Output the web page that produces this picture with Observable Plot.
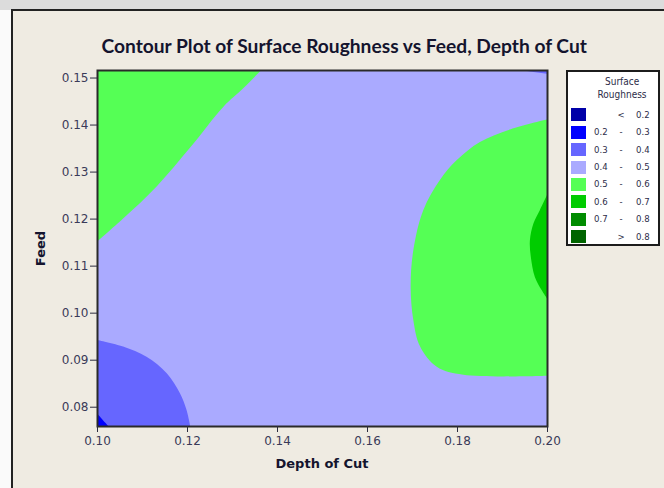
<!DOCTYPE html>
<html><head><meta charset="utf-8">
<script src="https://cdn.jsdelivr.net/npm/d3@7"></script>
<script src="https://cdn.jsdelivr.net/npm/@observablehq/plot@0.6"></script>
<style>
html,body{margin:0;padding:0;background:#fff;}
#wrap{position:relative;width:664px;height:488px;overflow:hidden;background:#fafafa;}
#topband{position:absolute;left:0;top:0;width:664px;height:10px;background:#dcdcdc;}
#panel{position:absolute;left:11px;top:9px;width:700px;height:520px;background:#efebe2;border-left:2px solid #222;border-top:2px solid #222;}
#chart{position:absolute;left:0;top:0;}
.lbl{position:absolute;white-space:nowrap;font-weight:bold;color:#14142e;}
#legend{position:absolute;left:566px;top:70px;width:90px;height:172px;border:2px solid #1c1c1c;background:#fff;font-family:"DejaVu Sans Condensed","DejaVu Sans";font-size:9.5px;color:#2c2c48;}
#legend div{position:absolute;white-space:nowrap;line-height:1;}
</style></head>
<body>
<div id="wrap">
  <div id="topband"></div>
  <div id="panel"></div>
  <div id="chart"></div>
  <div id="title" class="lbl" style="font-family:'Lato','Liberation Sans';font-size:16px;">Contour Plot of Surface Roughness vs Feed, Depth of Cut</div>
  <div id="xlabel" class="lbl" style="font-family:'DejaVu Sans';font-size:13px;">Depth of Cut</div>
  <div id="ylabel" class="lbl" style="font-family:'DejaVu Sans';font-size:13px;">Feed</div>
  <div id="legend"></div>
</div>
<script>
// ---- axis settings ----
const depthDomain = [0.10, 0.20];
const feedDomain = [0.0759, 0.1516];
const depthTicks = [0.10, 0.12, 0.14, 0.16, 0.18, 0.20];
const feedTicks = [0.08, 0.09, 0.10, 0.11, 0.12, 0.13, 0.14, 0.15];

// ---- legend bands ----
const bandLow  = ["",    "0.2", "0.3", "0.4", "0.5", "0.6", "0.7", "0.8"];
const bandHigh = ["0.2", "0.3", "0.4", "0.5", "0.6", "0.7", "0.8", ""];
const bandColors = ["#0000a8", "#0000ff", "#6666ff", "#aaaaff", "#55ff55", "#00cc00", "#008c00", "#006400"];

// ---- contour region boundaries (Depth of Cut, Feed) ----
// 0.5 - 0.6 region in the upper left (boundary below it, top edge above)
const upperLeftGreen = [
  {depth: 0.1000, feed: 0.1151},
  {depth: 0.1058, feed: 0.1200},
  {depth: 0.1133, feed: 0.1269},
  {depth: 0.1207, feed: 0.1351},
  {depth: 0.1281, feed: 0.1438},
  {depth: 0.1325, feed: 0.1477},
  {depth: 0.1366, feed: 0.1517}
];
// 0.5 - 0.6 region on the right (left boundary, right edge)
const rightGreen = [
  {feed: 0.0866, depth: 0.2000},
  {feed: 0.0868, depth: 0.1814},
  {feed: 0.0885, depth: 0.1755},
  {feed: 0.0928, depth: 0.1718},
  {feed: 0.0984, depth: 0.1703},
  {feed: 0.1055, depth: 0.1697},
  {feed: 0.1133, depth: 0.1703},
  {feed: 0.1218, depth: 0.1725},
  {feed: 0.1282, depth: 0.1762},
  {feed: 0.1324, depth: 0.1799},
  {feed: 0.1363, depth: 0.1851},
  {feed: 0.1392, depth: 0.1925},
  {feed: 0.1411, depth: 0.2000}
];
// 0.6 - 0.7 region at the right edge
const rightDarkGreen = [
  {feed: 0.1030, depth: 0.2000},
  {feed: 0.1048, depth: 0.1988},
  {feed: 0.1076, depth: 0.1973},
  {feed: 0.1119, depth: 0.1964},
  {feed: 0.1154, depth: 0.1962},
  {feed: 0.1190, depth: 0.1970},
  {feed: 0.1218, depth: 0.1984},
  {feed: 0.1250, depth: 0.2000}
];
// 0.3 - 0.4 region in the lower left (bottom edge, boundary above)
const lowerLeftBlue = [
  {depth: 0.1000, feed: 0.0942},
  {depth: 0.1058, feed: 0.0928},
  {depth: 0.1110, feed: 0.0906},
  {depth: 0.1155, feed: 0.0871},
  {depth: 0.1184, feed: 0.0829},
  {depth: 0.1199, feed: 0.0793},
  {depth: 0.1207, feed: 0.0759}
];
// 0.2 - 0.3 corner at the lower left
const cornerBlue = [
  {depth: 0.1000, feed: 0.0786},
  {depth: 0.1010, feed: 0.0775},
  {depth: 0.1025, feed: 0.0759}
];
// 0.3 - 0.4 sliver at the top right
const topRightSliver = [
  {depth: 0.1940, feed: 0.1516},
  {depth: 0.1970, feed: 0.1512},
  {depth: 0.2000, feed: 0.1508}
];

const colorOf = lo => bandColors[bandLow.indexOf(lo)];
const fmt = d3.format(".2f");

const chart = Plot.plot({
  width: 664, height: 488,
  marginLeft: 97, marginRight: 117, marginTop: 70, marginBottom: 62,
  style: {background: "transparent", fontFamily: "DejaVu Sans", fontSize: "12px", color: "#2c2c40"},
  x: {domain: depthDomain},
  y: {domain: feedDomain},
  marks: [
    Plot.frame({fill: colorOf("0.4")}),
    Plot.areaY(upperLeftGreen, {x: "depth", y1: "feed", y2: () => feedDomain[1], fill: colorOf("0.5"), curve: "catmull-rom", clip: true}),
    Plot.areaX(rightGreen, {y: "feed", x1: "depth", x2: () => depthDomain[1], fill: colorOf("0.5"), curve: "catmull-rom", clip: true}),
    Plot.areaX(rightDarkGreen, {y: "feed", x1: "depth", x2: () => depthDomain[1], fill: colorOf("0.6"), curve: "catmull-rom", clip: true}),
    Plot.areaY(lowerLeftBlue, {x: "depth", y1: () => feedDomain[0], y2: "feed", fill: colorOf("0.3"), curve: "catmull-rom", clip: true}),
    Plot.areaY(cornerBlue, {x: "depth", y1: () => feedDomain[0], y2: "feed", fill: colorOf("0.2"), curve: "catmull-rom", clip: true}),
    Plot.areaY(topRightSliver, {x: "depth", y1: "feed", y2: () => feedDomain[1], fill: colorOf("0.3"), clip: true}),
    Plot.frame({stroke: "#2a2a2a", strokeWidth: 2}),
    Plot.axisX({ticks: depthTicks, tickFormat: fmt, tickSize: 6, tickPadding: 4, label: null, fill: "#3a3a58"}),
    Plot.axisY({ticks: feedTicks, tickFormat: fmt, tickSize: 7, tickPadding: 2, label: null, fill: "#3a3a58"})
  ]
});
document.getElementById("chart").appendChild(chart);

// ---- title and axis labels ----
const title = document.getElementById("title");
const tw = title.offsetWidth;
title.style.fontSize = (16 * 486 / tw) + "px";
title.style.left = (344 - title.offsetWidth / 2) + "px";
title.style.top = (45 - title.offsetHeight / 2) + "px";

const xl = document.getElementById("xlabel");
xl.style.left = (322 - xl.offsetWidth / 2) + "px";
xl.style.top = (463 - xl.offsetHeight / 2) + "px";

const yl = document.getElementById("ylabel");
yl.style.left = (40 - yl.offsetWidth / 2) + "px";
yl.style.top = (248 - yl.offsetHeight / 2) + "px";
yl.style.transform = "rotate(-90deg)";

// ---- legend ----
const legend = document.getElementById("legend");
function add(text, css) {
  const d = document.createElement("div");
  d.textContent = text;
  Object.assign(d.style, css);
  legend.appendChild(d);
  return d;
}
const h1 = add("Surface", {fontSize: "10px", top: "5px"});
const h2 = add("Roughness", {fontSize: "10px", top: "18px"});
[h1, h2].forEach(h => h.style.left = (54 - h.offsetWidth / 2) + "px");
bandColors.forEach((c, i) => {
  const top = 36.3 + 17.4 * i;
  add("", {left: "3px", top: top + "px", width: "15px", height: "13px", background: c});
  const ty = (top + 1.5) + "px";
  if (bandLow[i] === "") {
    const s = add("<", {top: ty}); s.style.left = (53 - s.offsetWidth / 2) + "px";
    add(bandHigh[i], {left: "68px", top: ty});
  } else if (bandHigh[i] === "") {
    const s = add(">", {top: ty}); s.style.left = (53 - s.offsetWidth / 2) + "px";
    add(bandLow[i], {left: "68px", top: ty});
  } else {
    add(bandLow[i], {left: "26px", top: ty});
    const s = add("-", {top: ty}); s.style.left = (53 - s.offsetWidth / 2) + "px";
    add(bandHigh[i], {left: "68px", top: ty});
  }
});
</script>
</body></html>
